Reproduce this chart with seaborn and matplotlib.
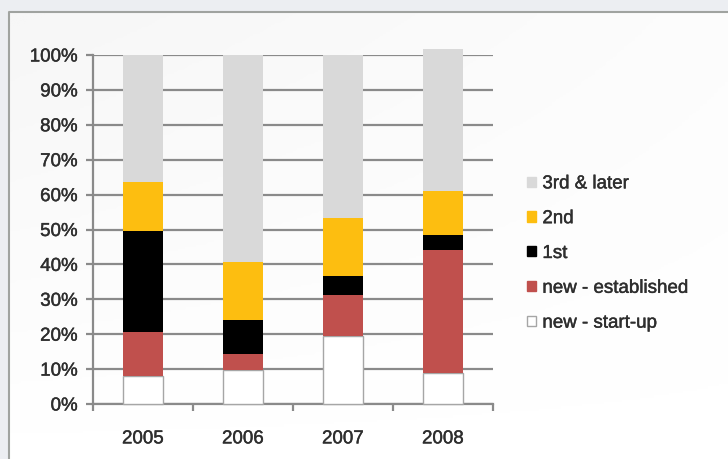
import numpy as np
import pandas as pd
import matplotlib
matplotlib.use("Agg")
import matplotlib.pyplot as plt
import matplotlib.patheffects as pe
import seaborn as sns
from matplotlib.patches import Patch
from matplotlib.ticker import PercentFormatter

years = ["2005", "2006", "2007", "2008"]
series = ["new - start-up", "new - established", "1st", "2nd", "3rd & later"]
start_up = [8.0, 9.7, 19.5, 8.8]
established = [12.5, 4.5, 11.6, 35.3]
first = [29.0, 9.9, 5.7, 4.3]
second = [14.2, 16.7, 16.4, 12.6]
third_later = [36.3, 59.2, 46.8, 40.6]
colors = ["#ffffff", "#c0504d", "#000000", "#fdbe10", "#d9d9d9"]
edges = ["#a6a6a6", "none", "none", "none", "none"]

values = [start_up, established, first, second, third_later]

sns.set_theme(style="white")
plt.rcParams["font.family"] = ["Liberation Sans", "DejaVu Sans"]

fig = plt.figure(figsize=(7.28, 4.59), dpi=100)
fig.patch.set_facecolor("#eceef2")

# background panel with subtle gradient
bg = fig.add_axes([0, 0, 1, 1], zorder=-10)
bg.set_axis_off()
gx = np.linspace(0, 1, 200)
gy = np.linspace(0, 1, 200)
GX, GY = np.meshgrid(gx, gy)
grad = np.clip(1 - 0.6 * (1 - GX) * GY - 0.3 * GY, 0, 1)
bg.imshow(grad, extent=[9 / 728, 1, 0, 1 - 12 / 459], cmap="Greys_r",
          vmin=-12, vmax=1, aspect="auto", origin="lower")
bg.set_xlim(0, 1)
bg.set_ylim(0, 1)
bg.plot([9 / 728, 9 / 728, 1], [0, 1 - 12 / 459, 1 - 12 / 459],
        color="#a0a3a0", lw=1.5, transform=bg.transAxes)

ax = fig.add_axes([93 / 728, 1 - 404 / 459, 400 / 728, 349 / 459])
ax.set_facecolor("none")

bottom = np.zeros(len(years))
handles = []
for name, vals, col, ec in zip(series, values, colors, edges):
    df = pd.DataFrame({"year": years, "value": vals})
    sns.barplot(data=df, x="year", y="value", ax=ax, color=col, width=0.4,
                bottom=bottom, edgecolor=ec, linewidth=1.0 if ec != "none" else 0,
                saturation=1, zorder=3)
    bottom = bottom + np.array(vals)
    handles.append(Patch(facecolor=col, edgecolor=ec if ec != "none" else col,
                         linewidth=1.0, label=name))

for b in ax.patches:
    b.set_clip_on(False)

txt_color = "#2e2e2e"
stroke = [pe.withStroke(linewidth=0.3, foreground=txt_color)]

ax.set_ylim(0, 100)
ax.set_xlim(-0.5, 3.5)
ax.set_yticks(np.arange(0, 101, 10))
ax.yaxis.set_major_formatter(PercentFormatter(decimals=0))
ax.set_xticks(range(4))
ax.set_xticklabels(years)
ax.set_xticks([-0.5, 0.5, 1.5, 2.5, 3.5], minor=True)
ax.set_xlabel("")
ax.set_ylabel("")
ax.grid(axis="y", color="#8a8a8a", linewidth=1.6, zorder=1)
ax.set_axisbelow(True)
for s in ["top", "right"]:
    ax.spines[s].set_visible(False)
for s in ["left", "bottom"]:
    ax.spines[s].set_color("#8a8a8a")
    ax.spines[s].set_linewidth(1.6)
ax.tick_params(axis="y", which="major", left=True, length=5, width=1.6,
               color="#8a8a8a", labelsize=13.5, labelcolor=txt_color, pad=6)
ax.tick_params(axis="x", which="major", bottom=False, labelsize=13.5,
               labelcolor=txt_color, pad=13)
ax.tick_params(axis="x", which="minor", bottom=True, length=5, width=1.6,
               color="#8a8a8a")
for t in ax.get_xticklabels() + ax.get_yticklabels():
    t.set_path_effects(stroke)

leg = fig.legend(handles=handles[::-1], loc="upper left",
                 bbox_to_anchor=(518 / 728, 1 - 166 / 459),
                 frameon=False, fontsize=13.5, handlelength=0.45,
                 handleheight=0.45, handletextpad=0.35, labelspacing=0.95,
                 borderpad=0, labelcolor=txt_color)
for t in leg.get_texts():
    t.set_path_effects(stroke)

fig.savefig("out.png", dpi=100, facecolor=fig.get_facecolor())
